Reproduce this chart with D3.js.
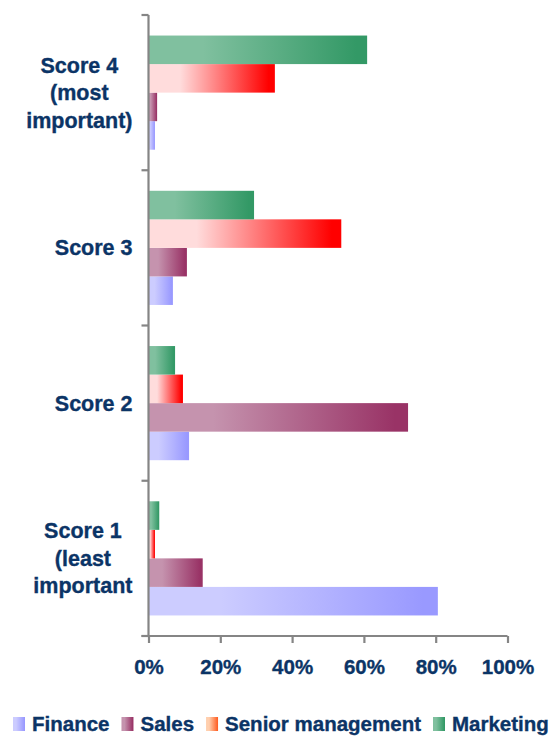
<!DOCTYPE html>
<html>
<head>
<meta charset="utf-8">
<script src="https://cdn.jsdelivr.net/npm/d3@7"></script>
<style>
  html, body { margin: 0; padding: 0; background: #ffffff; }
  svg { display: block; }
  text { font-family: "Liberation Sans", Arial, sans-serif; font-weight: bold; fill: #0b3466; stroke: #0b3466; stroke-width: 0.35px; }
</style>
</head>
<body>
<svg id="chart" width="557" height="736"></svg>
<script>
// ---- data ----
const categories = ["Score 4", "Score 3", "Score 2", "Score 1"];
const categoryLines = [
  ["Score 4", "(most", "important)"],
  ["Score 3"],
  ["Score 2"],
  ["Score 1", "(least", "important"]
];
const seriesNames = ["Finance", "Sales", "Senior management", "Marketing"];
const finance   = [1.8, 6.8, 11.3, 80.6];
const sales     = [2.4, 10.7, 72.3, 15.1];
const senior    = [35.2, 53.7, 9.6, 1.8];
const marketing = [60.9, 29.4, 7.4, 3.0];
const xTicks = [0, 20, 40, 60, 80, 100];

const seriesValues = [finance, sales, senior, marketing];
const barColors = [
  ["#ccccff", "#9999ff"],
  ["#c593ae", "#993366"],
  ["#ffdcdc", "#ff0000"],
  ["#80c09f", "#339966"]
];
const legendColors = [
  ["#ccccff", "#9999ff"],
  ["#c593ae", "#993366"],
  ["#ffcfae", "#ff6228"],
  ["#80c09f", "#339966"]
];

// ---- layout ----
const svg = d3.select("#chart");
const x0 = 148.5, x1 = 507.5, yTop = 15, yBot = 636;

const x = d3.scaleLinear().domain([0, 100]).range([x0, x1]);
const y = d3.scaleBand().domain(categories).range([yTop, yBot]).paddingInner(0).paddingOuter(0);
// bars within a band: top to bottom Marketing, Senior, Sales, Finance
const barOrder = [3, 2, 1, 0];
const yInner = d3.scaleBand().domain(barOrder).range([0, y.bandwidth()]).paddingInner(0).paddingOuter(0.72);

const defs = svg.append("defs");
function makeGrad(id, c) {
  const g = defs.append("linearGradient").attr("id", id)
    .attr("x1", "0%").attr("x2", "100%").attr("y1", "0%").attr("y2", "0%");
  g.append("stop").attr("offset", "0%").attr("stop-color", c[0]);
  g.append("stop").attr("offset", "25%").attr("stop-color", c[0]);
  g.append("stop").attr("offset", "60%").attr("stop-color", d3.interpolateRgb(c[0], c[1])(0.5));
  g.append("stop").attr("offset", "95%").attr("stop-color", c[1]);
  g.append("stop").attr("offset", "100%").attr("stop-color", c[1]);
}
barColors.forEach((c, i) => makeGrad("bar" + i, c));
legendColors.forEach((c, i) => makeGrad("leg" + i, c));

// bars
const barData = [];
categories.forEach((cat, ci) => {
  seriesValues.forEach((vals, si) => {
    barData.push({ cat, si, v: vals[ci] });
  });
});
svg.append("g").selectAll("rect").data(barData).join("rect")
  .attr("x", x(0))
  .attr("y", d => y(d.cat) + yInner(d.si))
  .attr("width", d => x(d.v) - x(0))
  .attr("height", yInner.bandwidth())
  .attr("fill", d => "url(#bar" + d.si + ")");

// axes
const axisColor = "#858585";
// x axis
const xAxis = d3.axisBottom(x).tickValues(xTicks).tickSize(7).tickFormat(d => d + "%").tickSizeOuter(0);
const gx = svg.append("g").attr("transform", `translate(0,${yBot})`).call(xAxis);
gx.select(".domain").attr("stroke", axisColor).attr("stroke-width", 2.2)
  .attr("d", `M${x0 - 7},0H${x1}`);
gx.selectAll(".tick line").attr("stroke", axisColor).attr("stroke-width", 2.2);
gx.selectAll(".tick text").attr("fill", "#0b3466").attr("font-size", "20.5px")
  .attr("font-family", "Liberation Sans, Arial, sans-serif").attr("font-weight", "bold")
  .attr("y", 0).attr("dy", null).attr("transform", "translate(0,38)");

// y axis line and ticks at band boundaries
const boundaries = categories.map(c => y(c)).concat([yBot]);
const gy = svg.append("g");
gy.append("line").attr("x1", x0).attr("x2", x0).attr("y1", yTop).attr("y2", yBot)
  .attr("stroke", axisColor).attr("stroke-width", 2.2);
gy.selectAll("line.tk").data(boundaries).join("line").attr("class", "tk")
  .attr("x1", x0 - 7).attr("x2", x0).attr("y1", d => d).attr("y2", d => d)
  .attr("stroke", axisColor).attr("stroke-width", 2.2);

// category labels
const lineH = 27.5;
const labelRight = 132.5;
categories.forEach((cat, ci) => {
  const lines = categoryLines[ci];
  const cy = y(cat) + y.bandwidth() / 2;
  const g = svg.append("g");
  const texts = g.selectAll("text").data(lines).join("text")
    .attr("font-size", "21.5px")
    .attr("text-anchor", "middle")
    .attr("y", (d, i) => cy + 7.5 + (i - (lines.length - 1) / 2) * lineH)
    .text(d => d);
  let maxW = 0;
  texts.each(function () { maxW = Math.max(maxW, this.getComputedTextLength()); });
  texts.attr("x", labelRight - maxW / 2);
});

// legend
const legY = 731;
let lx = 13;
seriesNames.forEach((name, i) => {
  svg.append("rect").attr("x", lx).attr("y", legY - 14).attr("width", 12).attr("height", 14)
    .attr("fill", "url(#leg" + i + ")");
  const t = svg.append("text").attr("x", lx + 19).attr("y", legY).attr("font-size", "20.5px").text(name);
  lx = lx + 19 + t.node().getComputedTextLength() + 12;
});
</script>
</body>
</html>
